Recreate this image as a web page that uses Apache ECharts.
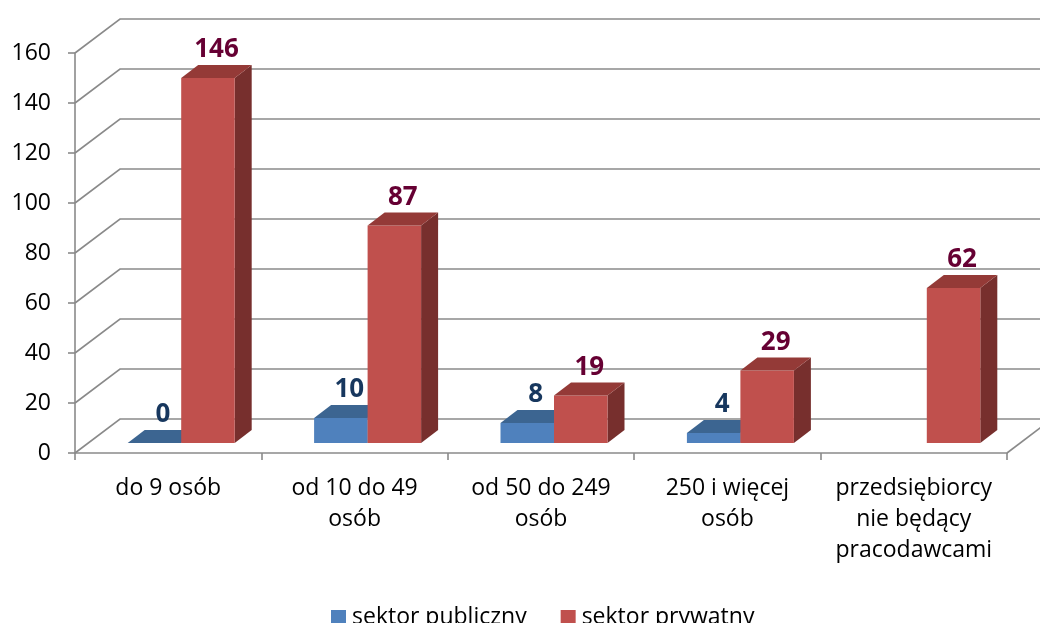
<!DOCTYPE html>
<html>
<head>
<meta charset="utf-8">
<script src="https://cdn.jsdelivr.net/npm/echarts@6/dist/echarts.min.js"></script>
<style>
  html, body { margin: 0; padding: 0; background: #fff; }
  #chart { width: 1040px; height: 623px; }
</style>
</head>
<body>
<div id="chart"></div>
<script>
// dane
const categories = ['do 9 osób', 'od 10 do 49\nosób', 'od 50 do 249\nosób', '250 i więcej\nosób', 'przedsiębiorcy\nnie będący\npracodawcami'];
const publicValues = [0, 10, 8, 4, null];
const privateValues = [146, 87, 19, 29, 62];
const yTicks = [0, 20, 40, 60, 80, 100, 120, 140, 160];

// efekt 3D
const WALL_DX = 45, WALL_DY = -34;   // głębokość ścian
const BAR_DX = 17, BAR_DY = -13;     // głębokość słupków
const BAR_RATIO = 0.287;

const FONT = '"Open Sans", "DejaVu Sans", sans-serif';

const chart = echarts.init(document.getElementById('chart'));

// linie siatki na ścianach (lewa + tylna)
function renderWall(params, api) {
  const cs = params.coordSys;
  const v = api.value(1);
  const y = api.coord([0, v])[1];
  const x0 = cs.x;
  const pts = [[x0, y], [x0 + WALL_DX, y + WALL_DY], [x0 + cs.width + WALL_DX + 40, y + WALL_DY]];
  const children = [{
    type: 'polyline',
    shape: { points: pts },
    style: { stroke: '#8a8a8a', lineWidth: 1.6, fill: null }
  }];
  if (v === 0) {
    children.push({
      type: 'line',
      shape: { x1: x0 + cs.width, y1: y, x2: x0 + cs.width + WALL_DX, y2: y + WALL_DY },
      style: { stroke: '#8a8a8a', lineWidth: 1.6 }
    });
  }
  return { type: 'group', children: children };
}

function makeBarRenderer(side, colors) {
  return function (params, api) {
    const val = api.value(1);
    if (val === null || val === undefined || isNaN(val)) return;
    const idx = api.value(0);
    const base = api.coord([idx, 0]);
    const top = api.coord([idx, val]);
    const band = api.size([1, 0])[0];
    const w = band * BAR_RATIO;
    const left = side === 0 ? base[0] - w : base[0];
    const by = base[1], ty = top[1];
    const children = [];
    if (by - ty > 0.5) {
      children.push({
        type: 'polygon',
        shape: { points: [[left + w, ty], [left + w + BAR_DX, ty + BAR_DY], [left + w + BAR_DX, by + BAR_DY], [left + w, by]] },
        style: { fill: colors.side }
      });
      children.push({
        type: 'rect',
        shape: { x: left, y: ty, width: w, height: by - ty },
        style: { fill: colors.front }
      });
    }
    children.push({
      type: 'polygon',
      shape: { points: [[left, ty], [left + BAR_DX, ty + BAR_DY], [left + w + BAR_DX, ty + BAR_DY], [left + w, ty]] },
      style: { fill: colors.top }
    });
    children.push({
      type: 'text',
      x: left + w / 2 + BAR_DX / 2,
      y: ty + BAR_DY - 2,
      style: {
        text: String(val),
        fill: colors.label,
        font: 'bold 26px ' + FONT,
        align: 'center',
        verticalAlign: 'bottom'
      }
    });
    return { type: 'group', children: children };
  };
}

chart.setOption({
  animation: false,
  backgroundColor: '#fff',
  grid: [
    { left: 75, right: 33, top: 53, bottom: 170 },   // przednia płaszczyzna (osie)
    { left: 88, right: 20, top: 43, bottom: 180 }    // płaszczyzna słupków
  ],
  legend: {
    left: 326,
    top: 601,
    itemWidth: 15,
    itemHeight: 15,
    itemGap: 34,
    icon: 'rect',
    textStyle: { fontFamily: FONT, fontSize: 23, color: '#000', padding: [0, 0, 0, 1] },
    data: ['sektor publiczny', 'sektor prywatny']
  },
  xAxis: [
    {
      type: 'category',
      gridIndex: 0,
      data: categories,
      boundaryGap: true,
      axisLine: { lineStyle: { color: '#8a8a8a', width: 1.6 } },
      axisTick: { show: true, length: 7, alignWithLabel: false, lineStyle: { color: '#8a8a8a', width: 1.6 } },
      axisLabel: { interval: 0, fontFamily: FONT, fontSize: 23, lineHeight: 31, color: '#000', margin: 20 },
      splitLine: { show: false }
    },
    {
      type: 'category',
      gridIndex: 1,
      data: categories,
      show: false
    }
  ],
  yAxis: [
    {
      type: 'value',
      gridIndex: 0,
      min: 0, max: 160, interval: 20,
      axisLine: { show: true, lineStyle: { color: '#8a8a8a', width: 1.6 } },
      axisTick: { show: true, length: 7, lineStyle: { color: '#8a8a8a', width: 1.6 } },
      axisLabel: { fontFamily: FONT, fontSize: 23, color: '#000', margin: 24 },
      splitLine: { show: false }
    },
    {
      type: 'value',
      gridIndex: 1,
      min: 0, max: 160, interval: 20,
      show: false
    }
  ],
  series: [
    {
      type: 'custom',
      name: 'walls',
      xAxisIndex: 0,
      yAxisIndex: 0,
      silent: true,
      z: 1,
      renderItem: renderWall,
      data: yTicks.map(v => [0, v])
    },
    {
      type: 'custom',
      name: 'sektor publiczny',
      xAxisIndex: 1,
      yAxisIndex: 1,
      z: 3,
      itemStyle: { color: '#4F81BD' },
      renderItem: makeBarRenderer(0, { front: '#4F81BD', top: '#3C6591', side: '#2F5077', label: '#17375E' }),
      data: publicValues.map((v, i) => [i, v])
    },
    {
      type: 'custom',
      name: 'sektor prywatny',
      xAxisIndex: 1,
      yAxisIndex: 1,
      z: 4,
      itemStyle: { color: '#C0504D' },
      renderItem: makeBarRenderer(1, { front: '#C0504D', top: '#943A37', side: '#772F2D', label: '#660033' }),
      data: privateValues.map((v, i) => [i, v])
    }
  ]
});
</script>
</body>
</html>
